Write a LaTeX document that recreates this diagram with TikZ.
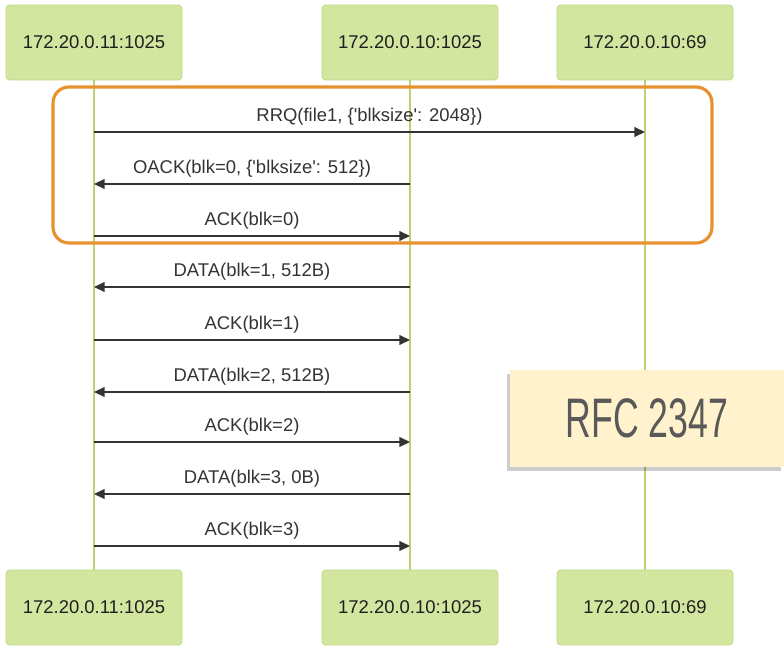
\documentclass[tikz,border=0pt]{standalone}
\usepackage{fontspec}
\setmainfont{Liberation Sans}
\newfontfamily\rfcfont[FakeStretch=0.64]{Liberation Sans}
\usepackage{tikz}
\usetikzlibrary{arrows.meta, positioning, fit, shadows}
\definecolor{sqGreen}{HTML}{D3E6A0}
\definecolor{sqGreenLine}{HTML}{BFD87E}
\definecolor{sqLife}{HTML}{B9D46E}
\definecolor{sqOrange}{HTML}{E8912F}
\definecolor{sqCream}{HTML}{FFF2CC}
\definecolor{sqText}{HTML}{333333}
\definecolor{sqDark}{HTML}{1F1F1F}
\definecolor{sqGray}{HTML}{595959}
\tikzset{
  sqhost/.style={draw=sqGreenLine, fill=sqGreen, rounded corners=2pt,
                 minimum width=3.52cm, minimum height=1.5cm,
                 font=\fontsize{10.5}{12}\selectfont, text=sqDark},
  sqlife/.style={draw=sqLife, line width=1.2pt},
  sqmsg/.style={draw=sqText, line width=0.8pt, -{Triangle[length=6pt,width=5.5pt]}},
  sqlbl/.style={font=\fontsize{10.5}{12}\selectfont, text=sqText, inner sep=1pt},
  sqopt/.style={draw=sqOrange, line width=1.8pt, rounded corners=9pt,
                minimum width=13.18cm, minimum height=3.12cm},
  sqnote/.style={fill=sqCream, text=sqGray, minimum width=5.48cm, minimum height=1.94cm,
                 font=\rfcfont\fontsize{31.7}{36}\selectfont,
                 drop shadow={shadow xshift=-1.5pt, shadow yshift=-2.5pt, fill=black, opacity=0.2}},
}

\begin{document}
\begin{tikzpicture}[x=0.02cm, y=0.02cm]
\useasboundingbox (0,0) rectangle (784,646);
\node[sqhost] (cliTop) at (94,603.5) {172.20.0.11:1025};
\node[sqhost] (srvTop) at (410,603.5) {172.20.0.10:1025};
\node[sqhost] (tftpTop) at (645,603.5) {172.20.0.10:69};
\node[sqhost] (cliBot) at (94,38.5) {172.20.0.11:1025};
\node[sqhost] (srvBot) at (410,38.5) {172.20.0.10:1025};
\node[sqhost] (tftpBot) at (645,38.5) {172.20.0.10:69};

\draw[sqlife] (cliTop) -- (cliBot);
\draw[sqlife] (srvTop) -- (srvBot);
\draw[sqlife] (tftpTop) -- (tftpBot);

% option negotiation
\node[sqopt] (optNeg) at (382.5,481) {};

\coordinate (m1) at (0,514);
\coordinate (m2) at (0,462);
\coordinate (m3) at (0,410);
\coordinate (m4) at (0,359);
\coordinate (m5) at (0,306);
\coordinate (m6) at (0,254);
\coordinate (m7) at (0,204);
\coordinate (m8) at (0,152);
\coordinate (m9) at (0,100);

\draw[sqmsg] (cliTop |- m1) -- node[sqlbl, above=2.5pt]{RRQ(file1, \{\textquotesingle blksize\textquotesingle: 2048\})} (tftpTop |- m1);
\draw[sqmsg] (srvTop |- m2) -- node[sqlbl, above=2.5pt]{OACK(blk=0, \{\textquotesingle blksize\textquotesingle: 512\})} (cliTop |- m2);
\draw[sqmsg] (cliTop |- m3) -- node[sqlbl, above=2.5pt]{ACK(blk=0)} (srvTop |- m3);
\draw[sqmsg] (srvTop |- m4) -- node[sqlbl, above=2.5pt]{DATA(blk=1, 512B)} (cliTop |- m4);
\draw[sqmsg] (cliTop |- m5) -- node[sqlbl, above=2.5pt]{ACK(blk=1)} (srvTop |- m5);
\draw[sqmsg] (srvTop |- m6) -- node[sqlbl, above=2.5pt]{DATA(blk=2, 512B)} (cliTop |- m6);
\draw[sqmsg] (cliTop |- m7) -- node[sqlbl, above=2.5pt]{ACK(blk=2)} (srvTop |- m7);
\draw[sqmsg] (srvTop |- m8) -- node[sqlbl, above=2.5pt]{DATA(blk=3, 0B)} (cliTop |- m8);
\draw[sqmsg] (cliTop |- m9) -- node[sqlbl, above=2.5pt]{ACK(blk=3)} (srvTop |- m9);

\node[sqnote] (rfcNote) at (647,227.5) {RFC 2347};
\end{tikzpicture}
\end{document}
